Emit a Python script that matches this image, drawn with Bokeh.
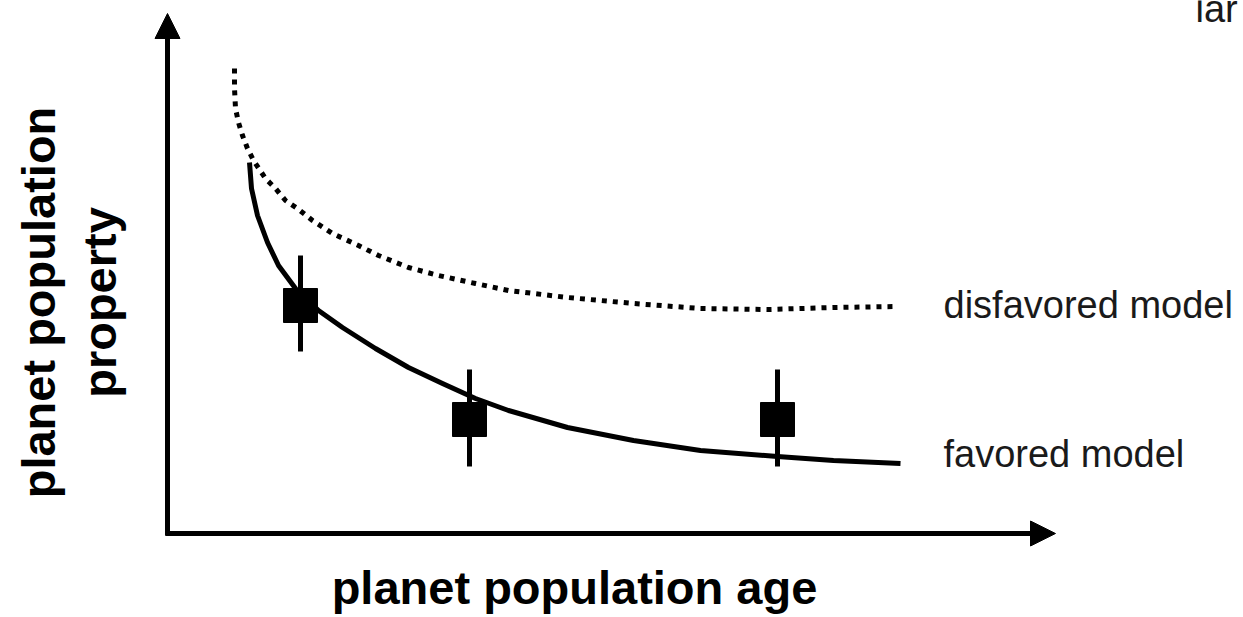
import math
from bokeh.plotting import figure
from bokeh.models import Range1d, Arrow, NormalHead
from bokeh.core.properties import value
from bokeh.embed import file_html
from bokeh.resources import INLINE

# Schematic units (y grows upward)
favored_x = [249, 251, 257, 267, 278, 295, 318, 342, 375, 408, 442, 475, 508, 567, 633, 700, 777, 833, 900]
favored_y = [455, 429, 402, 375, 352, 329, 307, 290, 269, 250, 234, 219, 207, 190, 177, 167, 161, 157, 154]

disfavored_x = [234, 234, 235, 238, 242, 247, 253, 265, 275, 285, 297, 312, 332, 358, 378, 408, 438, 475,
                508, 567, 633, 700, 767, 833, 897]
disfavored_y = [549, 529, 509, 495, 482, 469, 457, 439, 429, 417, 409, 397, 384, 372, 362, 350, 342, 334,
                327, 320, 314, 309, 308, 310, 311]

obs_x = [300, 469, 777]
obs_y = [312, 198, 198]
obs_lo = [266, 151, 151]
obs_hi = [362, 248, 248]

model_labels = ["disfavored model", "favored model"]
x_label = "planet population age"
y_label = ["planet population", "property"]

W, H = 1243, 617
p = figure(width=W, height=H, x_range=Range1d(0, W), y_range=Range1d(0, H),
           output_backend="svg", toolbar_location=None, min_border=0)
p.axis.visible = False
p.grid.visible = False
p.outline_line_color = None
p.background_fill_color = "white"
p.border_fill_color = "white"

LW = 5

# axes arrows
p.add_layout(Arrow(x_start=167, y_start=H - 535, x_end=167, y_end=H - 13,
                   line_width=LW, line_color="black",
                   end=NormalHead(size=25, fill_color="black", line_color="black", line_width=1)))
p.add_layout(Arrow(x_start=165, y_start=H - 533, x_end=1055, y_end=H - 533,
                   line_width=LW, line_color="black",
                   end=NormalHead(size=25, fill_color="black", line_color="black", line_width=1)))

# curves
p.line(disfavored_x, disfavored_y, line_width=LW, line_color="black",
       line_dash="5 6", line_cap="butt", line_join="round")
p.line(favored_x, favored_y, line_width=LW, line_color="black", line_join="round")

# error bars and markers
p.segment(x0=obs_x, y0=obs_lo, x1=obs_x, y1=obs_hi, line_width=LW, line_color="black")
p.scatter(obs_x, obs_y, marker="square", size=34, fill_color="black", line_color="black")

# model labels
p.text(x=[943, 943], y=[313, 164], text=model_labels, text_font=value("Liberation Sans"),
       text_font_size="38px", text_color="#1a1a1a", text_baseline="alphabetic", text_align="left")
p.text(x=[1195], y=[609], text=["lar"], text_font=value("Liberation Sans"),
       text_font_size="38px", text_color="#1a1a1a", text_baseline="alphabetic", text_align="left")

# axis labels
p.text(x=[574], y=[30], text=[x_label], text_font=value("Liberation Sans"),
       text_font_style="bold", text_font_size="47px", text_color="black",
       text_baseline="alphabetic", text_align="center")
p.text(x=[38, 99], y=[315, 315], text=y_label, angle=math.pi / 2,
       text_font=value("Liberation Sans"), text_font_style="bold", text_font_size="47px",
       text_color="black", text_baseline="alphabetic", text_align="center")

open("out.html", "w").write(file_html(p, INLINE))
